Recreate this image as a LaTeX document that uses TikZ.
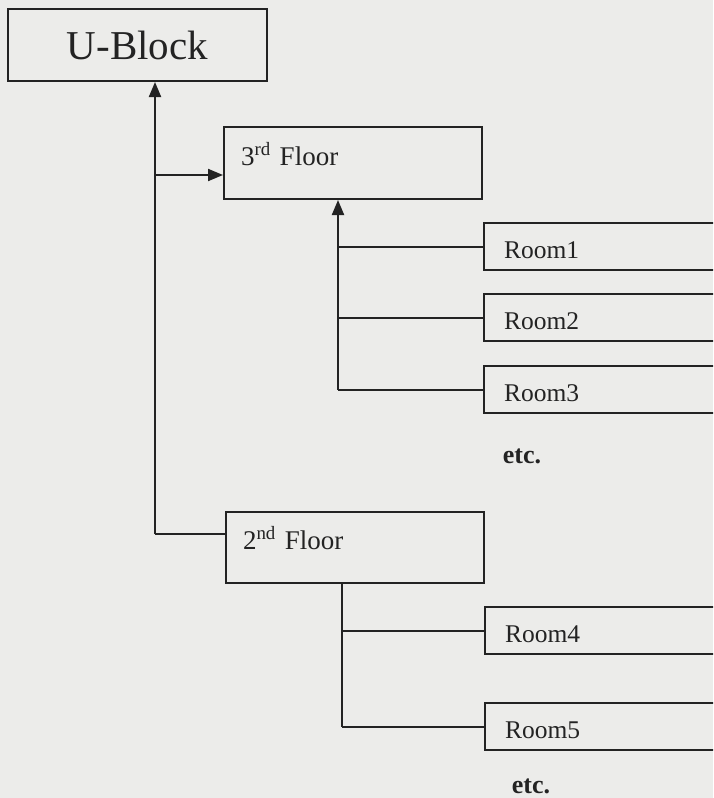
\documentclass[tikz,border=0pt]{standalone}
\usepackage{fontspec}
\setmainfont{Liberation Serif}
\usetikzlibrary{arrows.meta}
\definecolor{paper}{RGB}{236,236,234}
\definecolor{ink}{RGB}{35,35,35}
\tikzset{
  frame/.style={draw=ink, line width=2pt, text=ink, inner ysep=0pt, align=left},
  floorbox/.style={frame, inner xsep=17pt, text width=224pt, font=\fontsize{27}{30}\selectfont},
  roombox/.style={frame, inner xsep=20pt, text width=260pt, text height=35pt, text depth=12pt, font=\fontsize{25.5}{28}\selectfont},
  wire/.style={draw=ink, line width=2pt},
  arrowwire/.style={wire, -{Triangle[length=15pt,width=12pt]}},
  etcnote/.style={text=ink, inner sep=0pt, anchor=base, font=\fontsize{26}{28}\selectfont\bfseries}
}
\begin{document}
\begin{tikzpicture}[x=1pt,y=-1pt]
\useasboundingbox (0,0) rectangle (713,798);
\fill[paper] (0,0) rectangle (713,798);
\clip (0,0) rectangle (713,798);

% main block
\node[frame, minimum width=259pt, minimum height=72pt, font=\fontsize{41}{45}\selectfont, inner sep=0pt] (ublock) at (137.5,45) {U-Block};

% floors
\node[floorbox, anchor=north west, text height=38pt, text depth=34pt] (floor3) at (223,126) {3\textsuperscript{rd} Floor};
\node[floorbox, anchor=north west, text height=37pt, text depth=34pt] (floor2) at (225,511) {2\textsuperscript{nd} Floor};

% rooms
\node[roombox, anchor=north west] (room1) at (483,222) {Room1};
\node[roombox, anchor=north west] (room2) at (483,293) {Room2};
\node[roombox, anchor=north west] (room3) at (483,365) {Room3};
\node[roombox, anchor=north west] (room4) at (484,606) {Room4};
\node[roombox, anchor=north west] (room5) at (484,702) {Room5};

\node[etcnote] (etc1) at (522,463) {etc.};
\node[etcnote] (etc2) at (531,793) {etc.};

% main trunk
\coordinate (j3) at (155,175);
\coordinate (j2) at (155,534);
\draw[arrowwire] (j2) -- (j2 |- ublock.south);
\draw[arrowwire] (j3) -- (j3 -| floor3.west);
\draw[wire] (j2) -- (j2 -| floor2.west);

% 3rd floor subtree
\coordinate (k3) at (338,0);
\draw[arrowwire] (k3 |- room3.west) -- (k3 |- floor3.south);
\draw[wire] (k3 |- room1.west) -- (room1.west);
\draw[wire] (k3 |- room2.west) -- (room2.west);
\draw[wire] (k3 |- room3.west) -- (room3.west);

% 2nd floor subtree
\coordinate (k2) at (342,0);
\draw[wire] (k2 |- floor2.south) -- (k2 |- room5.west);
\draw[wire] (k2 |- room4.west) -- (room4.west);
\draw[wire] (k2 |- room5.west) -- (room5.west);
\end{tikzpicture}
\end{document}
